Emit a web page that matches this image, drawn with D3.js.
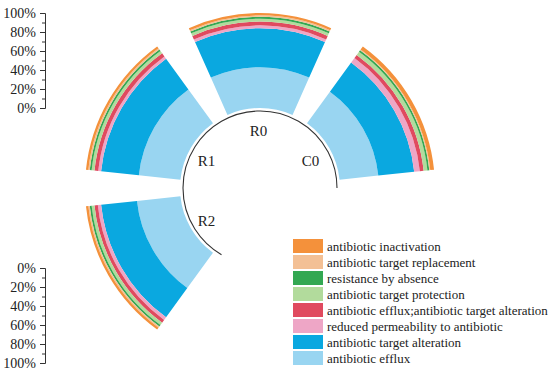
<!DOCTYPE html>
<html>
<head>
<meta charset="utf-8">
<script src="https://cdn.jsdelivr.net/npm/d3@7"></script>
<style>
  html, body { margin: 0; padding: 0; background: #fff; }
  svg { display: block; }
  text { font-family: "Liberation Serif", "Times New Roman", serif; fill: #222; }
</style>
</head>
<body>
<svg id="chart" width="550" height="375"></svg>
<script>
// ---- data ----
const categories = ["R2", "R1", "R0", "C0"];
const mechanisms = [
  "antibiotic efflux",
  "antibiotic target alteration",
  "reduced permeability to antibiotic",
  "antibiotic efflux;antibiotic target alteration",
  "antibiotic target protection",
  "resistance by absence",
  "antibiotic target replacement",
  "antibiotic inactivation"
];
// percentage values per category, in the order of `mechanisms`
const valuesR2 = [46, 38, 3.5, 3.5, 3, 2, 1.5, 2.5];
const valuesR1 = [44, 40, 3, 4, 3, 2, 1.5, 2.5];
const valuesR0 = [43, 41, 3, 4, 3, 2, 1.5, 2.5];
const valuesC0 = [41, 38, 6, 4, 4, 2, 1, 4];
const colors = ["#99d5f1", "#0aa8e0", "#eea6c6", "#e04a5f", "#b2db9c", "#33a852", "#f3c095", "#f4913b"];
const tickValues = [0, 0.2, 0.4, 0.6, 0.8, 1.0];
const minorTickValues = [0.1, 0.3, 0.5, 0.7, 0.9];
const legendOrder = [
  "antibiotic inactivation",
  "antibiotic target replacement",
  "resistance by absence",
  "antibiotic target protection",
  "antibiotic efflux;antibiotic target alteration",
  "reduced permeability to antibiotic",
  "antibiotic target alteration",
  "antibiotic efflux"
];

// ---- build table ----
const valueLists = { R2: valuesR2, R1: valuesR1, R0: valuesR0, C0: valuesC0 };
const table = categories.map(c => {
  const row = { category: c };
  const vals = valueLists[c];
  const total = d3.sum(vals);
  mechanisms.forEach((m, i) => row[m] = vals[i] / total);
  return row;
});

const svg = d3.select("#chart");
const cx = 260, cy = 188;
const innerRadius = 80, outerRadius = 175;

const x = d3.scaleBand()
  .domain(categories)
  .range([-5 * Math.PI / 6, Math.PI / 2])
  .paddingInner(0.2)
  .paddingOuter(0.1);

const y = d3.scaleLinear().domain([0, 1]).range([innerRadius, outerRadius]);

const color = d3.scaleOrdinal().domain(mechanisms).range(colors);

const series = d3.stack().keys(mechanisms)(table);

const arc = d3.arc()
  .innerRadius(d => y(d[0]))
  .outerRadius(d => y(d[1]))
  .startAngle(d => x(d.data.category))
  .endAngle(d => x(d.data.category) + x.bandwidth());

const g = svg.append("g").attr("transform", `translate(${cx},${cy})`);

g.selectAll("g.layer")
  .data(series)
  .join("g")
  .attr("class", "layer")
  .attr("fill", d => color(d.key))
  .selectAll("path")
  .data(d => d)
  .join("path")
  .attr("d", arc);

// inner circle arc
const circleArc = d3.arc()
  .innerRadius(77).outerRadius(77)
  .startAngle(x.range()[0]).endAngle(x.range()[1]);
g.append("path")
  .attr("d", circleArc)
  .attr("fill", "none")
  .attr("stroke", "#333")
  .attr("stroke-width", 1.1);

// category labels
const labelR = 60;
g.selectAll("text.cat")
  .data(categories)
  .join("text")
  .attr("class", "cat")
  .attr("x", c => labelR * Math.sin(x(c) + x.bandwidth() / 2) - 1.5)
  .attr("y", c => -labelR * Math.cos(x(c) + x.bandwidth() / 2))
  .attr("text-anchor", "middle")
  .attr("dy", "0.5em")
  .attr("font-size", 15)
  .text(c => c);

// axes (top: upward, bottom: downward)
const axisX = 45;
function drawAxis(sign) {
  const ys = d3.scaleLinear().domain([0, 1]).range([cy + sign * innerRadius, cy + sign * outerRadius]);
  const ax = svg.append("g").attr("transform", `translate(${axisX},0)`);
  ax.call(d3.axisLeft(ys).tickValues(tickValues).tickFormat(d3.format(".0%")).tickSize(5).tickSizeOuter(5).tickPadding(4));
  ax.selectAll("text").attr("font-size", 14).attr("font-family", '"Liberation Serif", serif').attr("fill", "#222");
  ax.selectAll("line, path").attr("stroke", "#333");
  const mx = svg.append("g").attr("transform", `translate(${axisX},0)`);
  mx.call(d3.axisLeft(ys).tickValues(minorTickValues).tickFormat("").tickSize(3).tickSizeOuter(0));
  mx.select(".domain").remove();
  mx.selectAll("line").attr("stroke", "#333");
}
drawAxis(-1);
drawAxis(1);

// legend
const legend = svg.append("g").attr("transform", "translate(293,239)");
const rowH = 16;
legend.selectAll("rect")
  .data(legendOrder)
  .join("rect")
  .attr("x", 0)
  .attr("y", (d, i) => i * rowH)
  .attr("width", 30)
  .attr("height", 14)
  .attr("fill", d => color(d));
legend.selectAll("text")
  .data(legendOrder)
  .join("text")
  .attr("x", 34)
  .attr("y", (d, i) => i * rowH + 7)
  .attr("dy", "0.35em")
  .attr("font-size", 13)
  .text(d => d);
</script>
</body>
</html>
